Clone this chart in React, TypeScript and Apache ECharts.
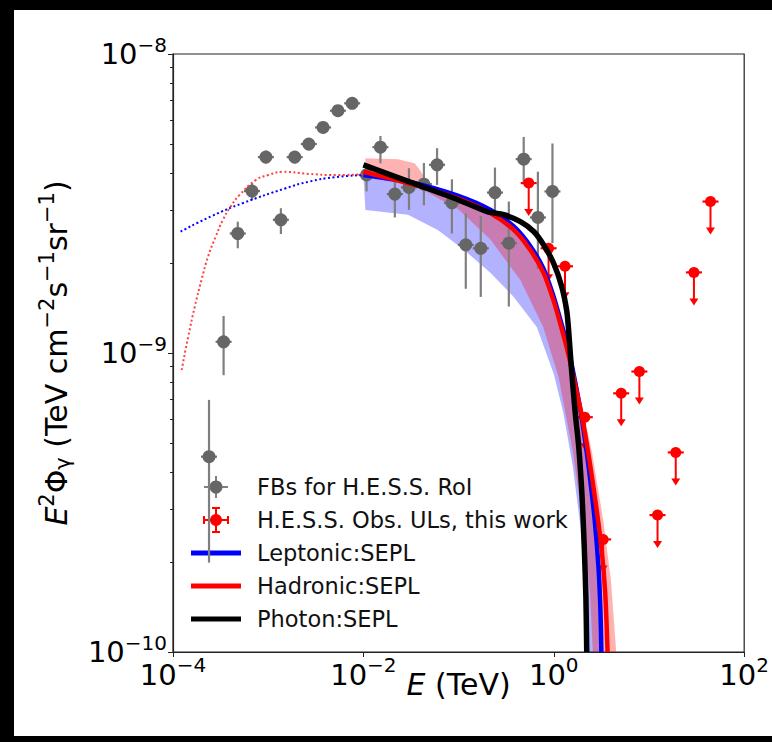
import React, { useEffect, useRef } from "react";
import * as echarts from "echarts";

// ---------- data ----------
// Fermi bubbles points for H.E.S.S. RoI
const fbEnergy = [2.39e-4, 3.4e-4, 4.79e-4, 6.76e-4, 9.46e-4, 1.36e-3, 1.9e-3, 2.67e-3, 3.77e-3, 5.4e-3, 7.62e-3,
  1.08e-2, 1.51e-2, 2.14e-2, 3.01e-2, 4.32e-2, 5.94e-2, 8.51e-2, 0.119, 0.171, 0.241, 0.337, 0.483, 0.681, 0.968];
const fbFlux = [4.5e-10, 1.09e-9, 2.51e-9, 3.48e-9, 4.52e-9, 2.79e-9, 4.52e-9, 5.0e-9, 5.68e-9, 6.46e-9, 6.84e-9,
  3.94e-9, 4.88e-9, 3.4e-9, 3.58e-9, 3.67e-9, 4.26e-9, 3.18e-9, 2.3e-9, 2.24e-9, 3.44e-9, 2.33e-9, 4.45e-9, 2.84e-9, 3.47e-9];
const fbFluxLow = [1.99e-10, 8.43e-10, 2.24e-9, 3.25e-9, 4.3e-9, 2.5e-9, 4.3e-9, 4.76e-9, 5.42e-9, 6.19e-9, 6.58e-9,
  3.47e-9, 4.31e-9, 2.84e-9, 3.01e-9, 3.12e-9, 3.65e-9, 2.51e-9, 1.64e-9, 1.54e-9, 2.82e-9, 1.43e-9, 3.7e-9, 1.91e-9, 2.33e-9];
const fbFluxHigh = [6.97e-10, 1.33e-9, 2.75e-9, 3.71e-9, 4.75e-9, 3.05e-9, 4.73e-9, 5.22e-9, 5.92e-9, 6.73e-9, 7.08e-9,
  4.16e-9, 5.32e-9, 3.79e-9, 4.15e-9, 4.32e-9, 4.84e-9, 3.81e-9, 2.93e-9, 2.87e-9, 4.17e-9, 3.21e-9, 5.28e-9, 4.04e-9, 5.02e-9];

// H.E.S.S. observation upper limits
const ulEnergy = [0.545, 0.881, 1.312, 2.118, 3.296, 5.105, 7.925, 12.3, 19.1, 29.65, 44.26];
const ulFlux = [3.7e-9, 2.24e-9, 1.95e-9, 6.1e-10, 2.38e-10, 7.33e-10, 8.67e-10, 2.87e-10, 4.65e-10, 1.86e-9, 3.21e-9];

// Model curves
const leptonicE = [0.01, 0.0345, 0.0977, 0.217, 0.38, 0.566, 0.782, 0.993, 1.164, 1.413, 1.66, 1.995, 2.344, 2.692, 2.951, 3.09, 3.162];
const leptonicF = [3.94e-9, 3.7e-9, 3.36e-9, 3.01e-9, 2.65e-9, 2.28e-9, 1.91e-9, 1.55e-9, 1.3e-9, 1.04e-9, 8.13e-10, 5.89e-10, 4.07e-10, 2.75e-10, 1.91e-10, 1.38e-10, 1.0e-10];
const hadronicE = [0.01, 0.0345, 0.0977, 0.217, 0.38, 0.566, 0.782, 0.993, 1.164, 1.413, 1.66, 1.995, 2.344, 2.754, 3.162, 3.467, 3.673];
const hadronicF = [4.04e-9, 3.65e-9, 3.29e-9, 2.93e-9, 2.58e-9, 2.21e-9, 1.85e-9, 1.5e-9, 1.26e-9, 1.0e-9, 7.94e-10, 6.03e-10, 4.47e-10, 3.16e-10, 2.24e-10, 1.58e-10, 1.0e-10];
const photonE = [0.01, 0.0316, 0.1, 0.2, 0.299, 0.446, 0.615, 0.782, 0.993, 1.211, 1.365, 1.429, 1.531, 1.679, 1.828, 1.982, 2.089, 2.173, 2.218];
const photonF = [4.26e-9, 3.72e-9, 3.25e-9, 2.97e-9, 2.9e-9, 2.75e-9, 2.55e-9, 2.3e-9, 2.0e-9, 1.67e-9, 1.39e-9, 1.2e-9, 8.91e-10, 6.31e-10, 4.86e-10, 3.31e-10, 2.25e-10, 1.53e-10, 1.0e-10];

// Uncertainty bands
const leptonicBandLowE = [0.0105, 0.0294, 0.0604, 0.1146, 0.217, 0.38, 0.665, 1.0, 1.259, 1.585, 1.905, 2.138, 2.344];
const leptonicBandLowF = [3.01e-9, 2.9e-9, 2.58e-9, 2.21e-9, 1.85e-9, 1.54e-9, 1.22e-9, 8.51e-10, 6.31e-10, 4.17e-10, 2.63e-10, 1.66e-10, 1.0e-10];
const hadronicBandUpE = [0.0105, 0.0232, 0.0345, 0.0398, 0.0501, 0.1, 0.217, 0.38, 0.566, 0.782, 1.0, 1.259, 1.778, 2.512, 3.311, 3.981, 4.529];
const hadronicBandUpF = [4.48e-9, 4.45e-9, 4.31e-9, 4.07e-9, 3.59e-9, 3.35e-9, 3.01e-9, 2.64e-9, 2.28e-9, 1.93e-9, 1.58e-9, 1.26e-9, 7.94e-10, 4.68e-10, 2.75e-10, 1.74e-10, 1.0e-10];
const hadronicBandLowE = [0.0105, 0.0347, 0.1, 0.217, 0.447, 0.776, 1.122, 1.585, 2.089, 2.399, 2.57];
const hadronicBandLowF = [3.98e-9, 3.63e-9, 3.02e-9, 2.39e-9, 1.75e-9, 1.22e-9, 8.32e-10, 4.68e-10, 2.51e-10, 1.58e-10, 1.0e-10];

// Low-energy extrapolations (dotted)
const leptonicExtE = [1.202e-4, 2.512e-4, 5.395e-4, 1.528e-3, 2.673e-3, 5.012e-3, 1e-2];
const leptonicExtF = [2.547e-9, 2.864e-9, 3.17e-9, 3.556e-9, 3.741e-9, 3.873e-9, 3.936e-9];
const hadronicExtE = [1.233e-4, 1.445e-4, 1.694e-4, 1.995e-4, 2.333e-4, 2.818e-4, 3.342e-4, 4.074e-4, 4.989e-4, 7.447e-4, 1e-3, 1.409e-3, 2.673e-3, 5.07e-3, 1e-2];
const hadronicExtF = [8.77e-10, 1.135e-9, 1.429e-9, 1.758e-9, 2.099e-9, 2.455e-9, 2.786e-9, 3.105e-9, 3.373e-9, 3.793e-9, 3.936e-9, 4.036e-9, 3.972e-9, 3.936e-9, 3.963e-9];

// Axes
const xTickValues = [1e-4, 1e-2, 1, 1e2];
const yTickValues = [1e-10, 1e-9, 1e-8];
const yMinorTickValues = [2e-10, 3e-10, 4e-10, 5e-10, 6e-10, 7e-10, 8e-10, 9e-10, 2e-9, 3e-9, 4e-9, 5e-9, 6e-9, 7e-9, 8e-9, 9e-9];

const legendLabels = ["FBs for H.E.S.S. RoI", "H.E.S.S. Obs. ULs, this work", "Leptonic:SEPL", "Hadronic:SEPL", "Photon:SEPL"];

// ---------- helpers ----------
const FONT = '"DejaVu Sans", sans-serif';
const zip = (a: number[], b: number[]) => a.map((v, i) => [v, b[i]]);
const expText = (v: number) => {
  const e = Math.round(Math.log10(v));
  return e < 0 ? "\u2212" + Math.abs(e) : String(e);
};
const tickRich = {
  b: { fontSize: 29, fontFamily: FONT, color: "#000" },
  s: { fontSize: 20, fontFamily: FONT, color: "#000", padding: [0, 0, 19, 0] },
};

function bandSeries(upE: number[], upF: number[], lowE: number[], lowF: number[], fill: string) {
  return {
    type: "custom",
    clip: true,
    silent: true,
    data: [[upE[0], upF[0]]],
    renderItem: (params: any, api: any) => {
      const pts: number[][] = [];
      upE.forEach((e, i) => pts.push(api.coord([e, upF[i]])));
      for (let i = lowE.length - 1; i >= 0; i--) pts.push(api.coord([lowE[i], lowF[i]]));
      return { type: "polygon", shape: { points: pts }, style: { fill, stroke: "none" } };
    },
  };
}

export default function App() {
  const ref = useRef<HTMLDivElement>(null);
  useEffect(() => {
    if (!ref.current) return;
    const chart = echarts.init(ref.current, undefined, { renderer: "svg" });

    const legendX = 216;
    const legendY = [487, 520, 553, 586, 619];
    const legendGraphics: any[] = [];
    legendGraphics.push(
      { type: "line", shape: { x1: legendX - 12, y1: legendY[0], x2: legendX + 12, y2: legendY[0] }, style: { stroke: "#808080", lineWidth: 2 } },
      { type: "line", shape: { x1: legendX, y1: legendY[0] - 11, x2: legendX, y2: legendY[0] + 11 }, style: { stroke: "#808080", lineWidth: 2 } },
      { type: "circle", shape: { cx: legendX, cy: legendY[0], r: 6.5 }, style: { fill: "#666666" } }
    );
    const ry = legendY[1];
    legendGraphics.push(
      { type: "line", shape: { x1: legendX - 12, y1: ry, x2: legendX + 12, y2: ry }, style: { stroke: "#ff0000", lineWidth: 2 } },
      { type: "line", shape: { x1: legendX, y1: ry - 12, x2: legendX, y2: ry + 12 }, style: { stroke: "#ff0000", lineWidth: 2 } },
      { type: "line", shape: { x1: legendX - 12, y1: ry - 4, x2: legendX - 12, y2: ry + 4 }, style: { stroke: "#ff0000", lineWidth: 2 } },
      { type: "line", shape: { x1: legendX + 12, y1: ry - 4, x2: legendX + 12, y2: ry + 4 }, style: { stroke: "#ff0000", lineWidth: 2 } },
      { type: "line", shape: { x1: legendX - 4, y1: ry - 12, x2: legendX + 4, y2: ry - 12 }, style: { stroke: "#ff0000", lineWidth: 2 } },
      { type: "line", shape: { x1: legendX - 4, y1: ry + 12, x2: legendX + 4, y2: ry + 12 }, style: { stroke: "#ff0000", lineWidth: 2 } },
      { type: "circle", shape: { cx: legendX, cy: ry, r: 6 }, style: { fill: "#ff0000" } }
    );
    const lineColors = ["#0000ff", "#ff0000", "#000000"];
    lineColors.forEach((c, i) => {
      legendGraphics.push({
        type: "line",
        shape: { x1: 191, y1: legendY[i + 2], x2: 241, y2: legendY[i + 2] },
        style: { stroke: c, lineWidth: 5 },
      });
    });
    legendLabels.forEach((t, i) => {
      legendGraphics.push({
        type: "text",
        x: 257,
        y: legendY[i],
        style: { text: t, fill: "#111", fontSize: 22.5, fontFamily: FONT, verticalAlign: "middle", align: "left" },
      });
    });

    const option: any = {
      animation: false,
      backgroundColor: "#ffffff",
      grid: { left: 173, top: 54, right: 24, bottom: 90, show: true, borderColor: "#222", borderWidth: 1.2, backgroundColor: "transparent" },
      xAxis: {
        type: "log",
        logBase: 10,
        min: 1e-4,
        max: 1e2,
        name: "{i|E} (TeV)",
        nameLocation: "middle",
        nameGap: 17,
        nameMoveOverlap: false,
        nameTextStyle: {
          fontSize: 30,
          fontFamily: FONT,
          color: "#000",
          rich: { i: { fontSize: 30, fontFamily: FONT, fontStyle: "italic", color: "#000" } },
        },
        axisLine: { show: true, lineStyle: { color: "#222", width: 1.2 } },
        axisTick: { show: true, length: 5, customValues: xTickValues, lineStyle: { color: "#222" } },
        axisLabel: {
          customValues: xTickValues,
          margin: 3,
          formatter: (v: number) => `{b|10}{s|${expText(v)}}`,
          rich: tickRich,
        },
        splitLine: { show: false },
        minorTick: { show: false },
      },
      yAxis: [
        {
          type: "log",
          logBase: 10,
          min: 1e-10,
          max: 1e-8,
          name: "{i|E}{s|2}{n|\u03a6}{sub|\u03b3}{n| (TeV cm}{s|\u22122}{n|s}{s|\u22121}{n|sr}{s|\u22121}{n|)}",
          nameLocation: "middle",
          nameRotate: 90,
          nameGap: 96,
          nameMoveOverlap: false,
          nameTextStyle: {
            fontSize: 30,
            fontFamily: FONT,
            color: "#000",
            rich: {
              i: { fontSize: 30, fontFamily: FONT, fontStyle: "italic", color: "#000" },
              n: { fontSize: 30, fontFamily: FONT, color: "#000" },
              s: { fontSize: 21, fontFamily: FONT, color: "#000", padding: [0, 0, 20, 0] },
              sub: { fontSize: 21, fontFamily: FONT, color: "#000", padding: [12, 0, 0, 0] },
            },
          },
          axisLine: { show: true, lineStyle: { color: "#222", width: 1.2 } },
          axisTick: { show: true, length: 5, customValues: yTickValues, lineStyle: { color: "#222" } },
          axisLabel: {
            customValues: yTickValues,
            margin: 6,
            formatter: (v: number) => `{b|10}{s|${expText(v)}}`,
            rich: tickRich,
          },
          splitLine: { show: false },
        },
        {
          type: "log",
          logBase: 10,
          min: 1e-10,
          max: 1e-8,
          position: "left",
          axisLine: { show: false },
          axisTick: { show: true, length: 3, customValues: yMinorTickValues, lineStyle: { color: "#222" } },
          axisLabel: { show: false },
          splitLine: { show: false },
        },
      ],
      graphic: [
        { type: "rect", shape: { x: 0, y: 0, width: 772, height: 10 }, style: { fill: "#000" } },
        { type: "rect", shape: { x: 0, y: 0, width: 14, height: 742 }, style: { fill: "#000" } },
        { type: "rect", shape: { x: 0, y: 736, width: 772, height: 6 }, style: { fill: "#000" } },
        ...legendGraphics,
      ],
      series: [
        bandSeries(leptonicE, leptonicF, leptonicBandLowE, leptonicBandLowF, "rgba(0,0,255,0.3)"),
        bandSeries(hadronicBandUpE, hadronicBandUpF, hadronicBandLowE, hadronicBandLowF, "rgba(255,0,0,0.3)"),
        {
          type: "line",
          data: zip(leptonicExtE, leptonicExtF),
          showSymbol: false,
          smooth: true,
          silent: true,
          lineStyle: { color: "#0000ff", width: 2, type: [2, 2.5] },
        },
        {
          type: "line",
          data: zip(hadronicExtE, hadronicExtF),
          showSymbol: false,
          smooth: true,
          silent: true,
          lineStyle: { color: "#ff4040", width: 2, type: [2, 2.5] },
        },
        {
          type: "custom",
          name: "FBs for H.E.S.S. RoI",
          data: fbEnergy.map((e, i) => [e, fbFlux[i], fbFluxLow[i], fbFluxHigh[i]]),
          encode: { x: 0, y: 1 },
          renderItem: (params: any, api: any) => {
            const p = api.coord([api.value(0), api.value(1)]);
            const lo = api.coord([api.value(0), api.value(2)]);
            const hi = api.coord([api.value(0), api.value(3)]);
            return {
              type: "group",
              children: [
                { type: "line", shape: { x1: p[0], y1: hi[1], x2: p[0], y2: lo[1] }, style: { stroke: "#7f7f7f", lineWidth: 2.2 } },
                { type: "line", shape: { x1: p[0] - 8, y1: p[1], x2: p[0] + 8, y2: p[1] }, style: { stroke: "#6f6f6f", lineWidth: 2.2 } },
                { type: "circle", shape: { cx: p[0], cy: p[1], r: 6.5 }, style: { fill: "#666666" } },
              ],
            };
          },
        },
        {
          type: "line",
          name: "Leptonic:SEPL",
          data: zip(leptonicE, leptonicF),
          showSymbol: false,
          smooth: 0.25,
          silent: true,
          lineStyle: { color: "#0000ff", width: 4.5 },
        },
        {
          type: "line",
          name: "Hadronic:SEPL",
          data: zip(hadronicE, hadronicF),
          showSymbol: false,
          smooth: 0.25,
          silent: true,
          lineStyle: { color: "#ff0000", width: 4.5 },
        },
        {
          type: "line",
          name: "Photon:SEPL",
          data: zip(photonE, photonF),
          showSymbol: false,
          smooth: 0.25,
          silent: true,
          lineStyle: { color: "#000000", width: 5.5 },
        },
        {
          type: "custom",
          name: "H.E.S.S. Obs. ULs, this work",
          data: zip(ulEnergy, ulFlux),
          encode: { x: 0, y: 1 },
          renderItem: (params: any, api: any) => {
            const p = api.coord([api.value(0), api.value(1)]);
            const len = 33;
            return {
              type: "group",
              children: [
                { type: "line", shape: { x1: p[0], y1: p[1], x2: p[0], y2: p[1] + len - 4 }, style: { stroke: "#ff0000", lineWidth: 2 } },
                { type: "polygon", shape: { points: [[p[0] - 4.5, p[1] + len - 7], [p[0] + 4.5, p[1] + len - 7], [p[0], p[1] + len]] }, style: { fill: "#ff0000" } },
                { type: "line", shape: { x1: p[0] - 8, y1: p[1], x2: p[0] + 8, y2: p[1] }, style: { stroke: "#ff0000", lineWidth: 2.2 } },
                { type: "circle", shape: { cx: p[0], cy: p[1], r: 5.5 }, style: { fill: "#ff0000" } },
              ],
            };
          },
        },
      ],
    };
    chart.setOption(option);
    return () => chart.dispose();
  }, []);
  return <div ref={ref} style={{ position: "fixed", left: 0, top: 0, width: 772, height: 742 }} />;
}
